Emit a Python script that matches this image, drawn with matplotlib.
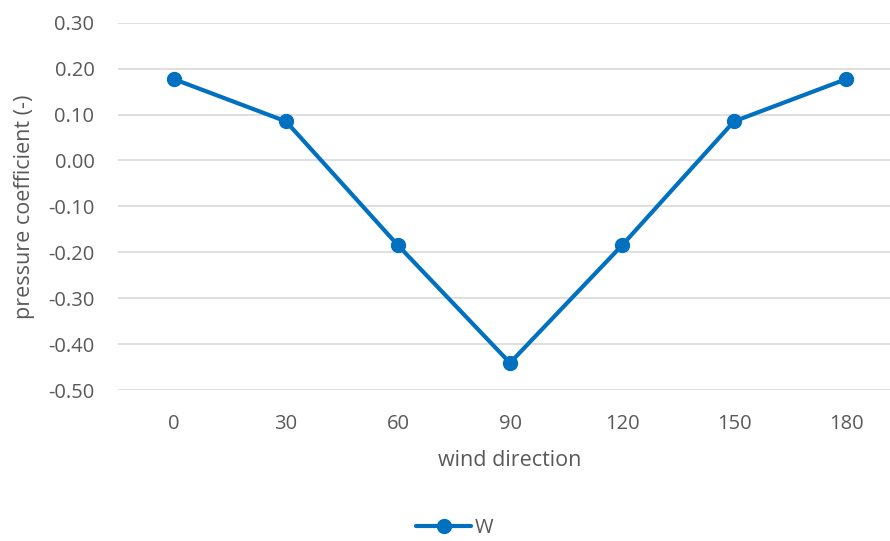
import matplotlib
matplotlib.use("Agg")
import matplotlib.pyplot as plt

categories = ["0", "30", "60", "90", "120", "150", "180"]
values_w = [0.177, 0.085, -0.185, -0.441, -0.185, 0.085, 0.177]
yticks = [0.30, 0.20, 0.10, 0.00, -0.10, -0.20, -0.30, -0.40, -0.50]

plt.rcParams['font.family'] = ['Open Sans', 'DejaVu Sans']
color = "#0070C0"
tc = "#595959"

fig = plt.figure(figsize=(8.9, 5.41), dpi=100)
ax = fig.add_axes([118/890, 1-390/541, 784/890, (390-22.7)/541])
x = list(range(len(categories)))
ax.plot(x, values_w, color=color, lw=3, marker='o', ms=10, label="W",
        solid_capstyle='round', zorder=3)
ax.set_xlim(-0.5, len(categories)-0.5)
ax.set_ylim(-0.5, 0.3)
ax.set_yticks(yticks)
ax.set_yticklabels([f"{v:.2f}" for v in yticks])
ax.set_xticks(x)
ax.set_xticklabels(categories)
ax.grid(axis='y', color='#D9D9D9', lw=1.2)
ax.set_axisbelow(True)
for s in ax.spines.values():
    s.set_visible(False)
ax.tick_params(length=0, labelsize=14.5, colors=tc)
ax.tick_params(axis='x', pad=17)
ax.tick_params(axis='y', pad=17)
ax.set_xlabel("wind direction", fontsize=15.5, color=tc)
ax.set_ylabel("pressure coefficient (-)", fontsize=15.5, color=tc)
ax.yaxis.set_label_coords(-(118-25)/784, 0.5)
ax.xaxis.set_label_coords(0.5, -(461-390)/367.3)
ax.xaxis.label.set_va('center')
ax.yaxis.label.set_va('center')
fig.legend(loc='center', bbox_to_anchor=(455/890, 1-528/541), frameon=False,
           fontsize=14.5, labelcolor=tc, handlelength=2.7, handletextpad=0.2)
fig.savefig("out.png", dpi=100)
